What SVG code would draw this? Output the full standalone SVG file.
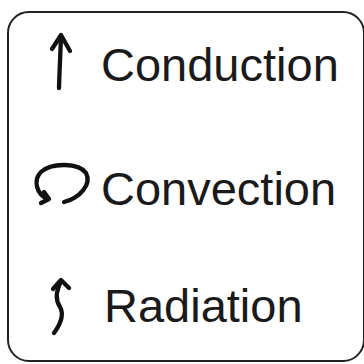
<svg xmlns="http://www.w3.org/2000/svg" width="364" height="364" viewBox="0 0 364 364">
  <style>
    .frame { fill: #ffffff; stroke: #222222; stroke-width: 2; }
    .icon { fill: none; stroke: #111111; stroke-width: 4.3; stroke-linecap: round; stroke-linejoin: round; }
    .label { font-family: "Liberation Sans", Arial, sans-serif; font-size: 47px; fill: #1a1a1a; }
  </style>
  <rect width="364" height="364" fill="#ffffff"/>
  <!-- legend frame -->
  <rect class="frame" x="8" y="12" width="356" height="349" rx="21" ry="21"/>
  <g id="conduction">
    <path class="icon" d="M59 88 C59.5 70 60.5 52 61 36"/>
    <path class="icon" d="M52 49 L61 35 L70 51"/>
    <text class="label" x="101" y="81">Conduction</text>
  </g>
  <g id="convection">
    <path class="icon" d="M64 202 C80 198 92 184 86 173 C79 163 52 162 41 172 C33 180 36 194 48 199"/>
    <path class="icon" d="M44 192 L49 199 L41 203"/>
    <text class="label" x="101" y="205">Convection</text>
  </g>
  <g id="radiation">
    <path class="icon" d="M54 333 C62 322 64 314 60 307 C55 299 56 292 61 281"/>
    <path class="icon" d="M53 289 L61 280 L69 288"/>
    <text class="label" x="104" y="322">Radiation</text>
  </g>
</svg>
